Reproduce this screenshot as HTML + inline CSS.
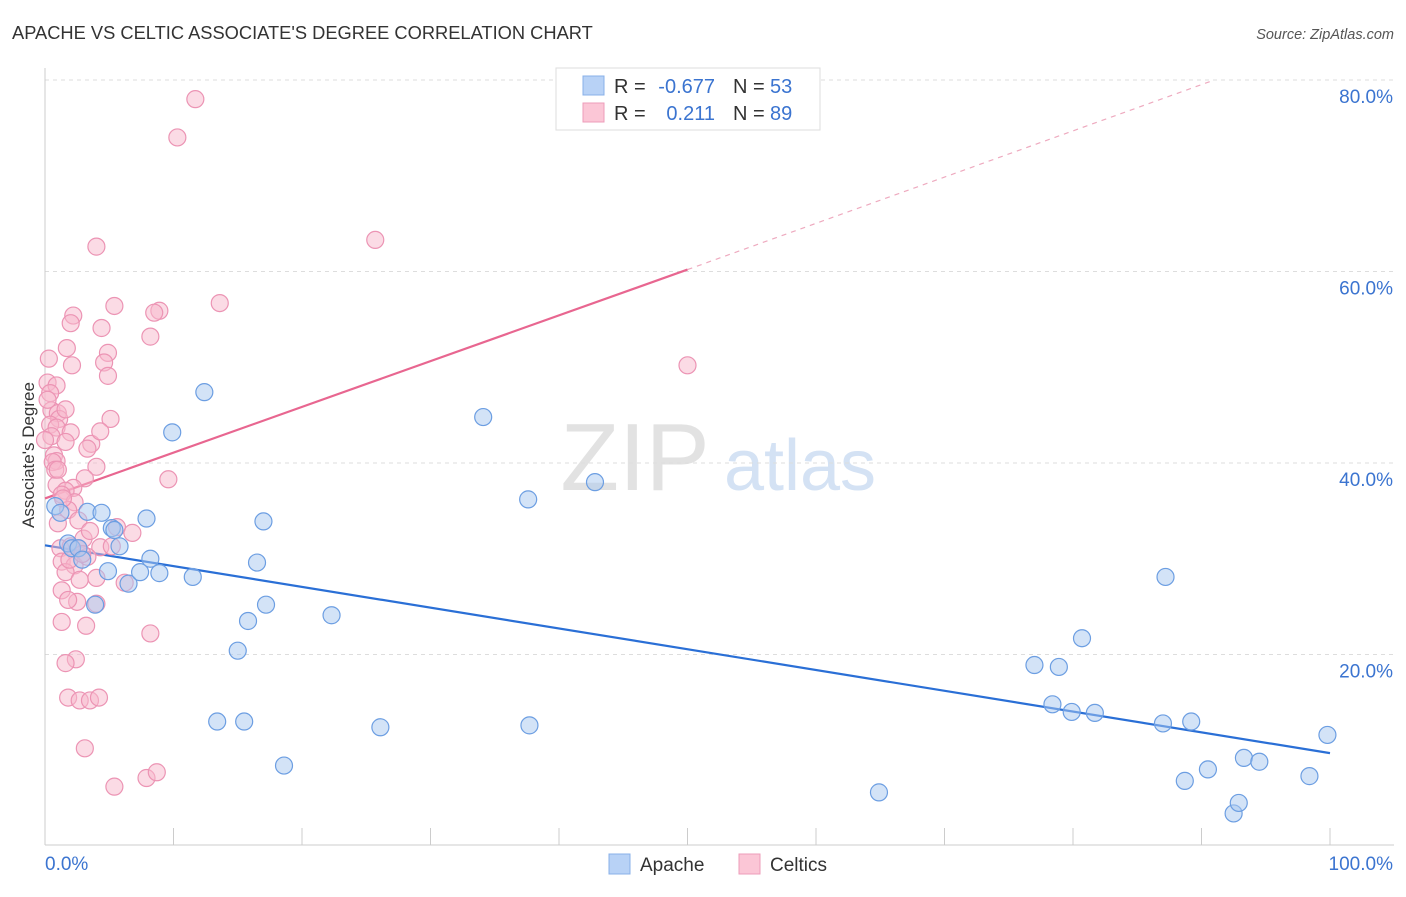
<!DOCTYPE html>
<html><head><meta charset="utf-8"><style>
body{margin:0;background:#fff;font-family:"Liberation Sans",sans-serif;}
svg text{font-family:"Liberation Sans",sans-serif;}
</style></head><body>
<svg id="c" width="1406" height="892" xmlns="http://www.w3.org/2000/svg">
<text x="12" y="39" font-size="18.3" fill="#333">APACHE VS CELTIC ASSOCIATE'S DEGREE CORRELATION CHART</text>
<text x="1394" y="39" font-size="14.5" fill="#555" font-style="italic" text-anchor="end">Source: ZipAtlas.com</text>
<g>
<text x="635" y="490" font-size="96" fill="#e2e2e2" font-family="Liberation Serif" text-anchor="middle">ZIP</text>
<text x="800" y="490" font-size="72" fill="#d4e2f4" text-anchor="middle">atlas</text>
</g>
<g id="grid"></g><g id="axes"></g><g id="lines"></g><g id="pts"></g>
<text transform="translate(34,455) rotate(-90)" font-size="17" fill="#333" text-anchor="middle">Associate's Degree</text>
<g>
<rect x="556" y="68" width="264" height="62" fill="#fff" stroke="#ddd"/>
<rect x="583" y="76" width="21" height="19" fill="#b8d2f6" stroke="#88b0e8"/>
<rect x="583" y="103" width="21" height="19" fill="#fbc6d6" stroke="#ee9cba"/>
<text x="614" y="93" font-size="20" fill="#333">R =</text><text x="715" y="93" font-size="20" fill="#3b74d0" text-anchor="end">-0.677</text>
<text x="733" y="93" font-size="20" fill="#333">N =</text><text x="770" y="93" font-size="20" fill="#3b74d0">53</text>
<text x="614" y="120" font-size="20" fill="#333">R =</text><text x="715" y="120" font-size="20" fill="#3b74d0" text-anchor="end">0.211</text>
<text x="733" y="120" font-size="20" fill="#333">N =</text><text x="770" y="120" font-size="20" fill="#3b74d0">89</text>
</g>
<g>
<rect x="609" y="854" width="21" height="20" fill="#b8d2f6" stroke="#88b0e8"/>
<text x="640" y="871" font-size="19" fill="#333">Apache</text>
<rect x="739" y="854" width="21" height="20" fill="#fbc6d6" stroke="#ee9cba"/>
<text x="770" y="871" font-size="19" fill="#333">Celtics</text>
</g>
</svg>
<script>
const yTicks=[20,40,60,80];
const yTickLabels=["20.0%","40.0%","60.0%","80.0%"];
const xTickLabels=["0.0%","100.0%"];
const apacheX=[0.8,1.2,1.8,2.1,2.6,2.9,3.3,4.4,3.9,4.9,5.2,5.4,5.8,6.5,7.4,7.9,8.2,8.9,9.9,11.5,12.4,13.4,15.0,15.5,15.8,16.5,17.0,17.2,18.6,22.3,26.1,34.1,37.6,37.7,42.8,64.9,77.0,78.4,78.9,79.9,80.7,81.7,87.2,87.0,88.7,89.2,90.5,92.5,92.9,93.3,94.5,98.4,99.8];
const apacheY=[35.5,34.8,31.6,31.1,31.1,29.9,34.9,34.8,25.2,28.7,33.2,33.0,31.3,27.4,28.6,34.2,30.0,28.5,43.2,28.1,47.4,13.0,20.4,13.0,23.5,29.6,33.9,25.2,8.4,24.1,12.4,44.8,36.2,12.6,38.0,5.6,18.9,14.8,18.7,14.0,21.7,13.9,28.1,12.8,6.8,13.0,8.0,3.4,4.5,9.2,8.8,7.3,11.6];
const celticsX=[11.7,10.3,4.0,25.7,13.6,5.4,8.9,8.5,2.2,2.0,4.4,8.2,1.7,4.9,0.3,2.1,4.6,4.9,50.0,0.2,0.9,0.4,0.5,1.0,1.1,5.1,0.4,0.9,0.5,2.0,3.6,1.6,3.3,0.7,0.9,4.0,0.6,9.6,3.1,0.9,2.2,1.6,1.3,2.3,1.8,1.0,5.6,6.8,3.0,1.2,2.0,2.6,4.3,5.2,1.3,2.3,3.3,1.6,2.7,4.0,6.2,1.3,2.5,4.0,1.3,3.2,8.2,2.4,1.6,1.8,2.7,3.5,4.2,3.1,5.4,7.9,8.7,1.9,2.9,0.2,0.8,1.4,2.6,0.0,3.5,1.8,1.0,1.6,4.3];
const celticsY=[78.0,74.0,62.6,63.3,56.7,56.4,55.9,55.7,55.4,54.6,54.1,53.2,52.0,51.5,50.9,50.2,50.5,49.1,50.2,48.4,48.1,47.3,45.5,45.2,44.6,44.6,44.0,43.7,42.8,43.2,42.0,42.2,41.5,40.8,40.2,39.6,40.1,38.3,38.4,37.7,37.4,37.1,36.7,35.9,35.1,33.7,33.3,32.7,32.1,31.1,31.3,31.1,31.2,31.3,29.7,29.3,30.2,28.6,27.8,28.0,27.5,26.7,25.5,25.3,23.4,23.0,22.2,19.5,19.1,15.5,15.2,15.2,15.5,10.2,6.2,7.1,7.7,29.9,30.5,46.6,39.3,36.3,34.0,42.4,32.9,25.7,39.3,45.6,43.3];
const apacheTrend=[[0,31.4],[100,9.7]];
const celticsTrend=[[0,36.3],[50,60.2]];
const celticsDash=[[50,60.2],[91,80]];
const NS="http://www.w3.org/2000/svg";
const X=v=>45+v*12.85, Y=v=>846-v*9.575;
function mk(p,t,a){const e=document.createElementNS(NS,t);for(const k in a)e.setAttribute(k,a[k]);p.appendChild(e);return e;}
const grid=document.getElementById('grid'),axes=document.getElementById('axes'),lines=document.getElementById('lines'),pts=document.getElementById('pts');
yTicks.forEach((t,i)=>{
 const g=mk(grid,'line',{x1:45,x2:1394,y1:Y(t),y2:Y(t),stroke:'#ddd','stroke-dasharray':'4,4'});
 
 
 const l=mk(axes,'text',{x:1393,y:Y(t)+23,'font-size':19,fill:'#3b74d0','text-anchor':'end'});
 l.textContent=yTickLabels[i];
 
 
});
const xa=mk(axes,'line',{x1:45,x2:1394,y1:845,y2:845,stroke:'#ccc'});


const ya=mk(axes,'line',{x1:45,x2:45,y1:68,y2:845,stroke:'#ccc'});


for(let i=0;i<=10;i++){const t=mk(axes,'line',{x1:X(i*10),x2:X(i*10),y1:828,y2:845,stroke:'#ccc'});
 
 }
[[0,'start',45],[100,'end',1393]].forEach((d,i)=>{const t=mk(axes,'text',{x:d[2],y:870,'font-size':19,fill:'#3b74d0','text-anchor':d[1]});t.textContent=xTickLabels[i];
 
 });
function seg(d,c,w,dash,name){const a={x1:X(d[0][0]),y1:Y(d[0][1]),x2:X(d[1][0]),y2:Y(d[1][1]),stroke:c,'stroke-width':w};if(dash)a['stroke-dasharray']=dash;const l=mk(lines,'line',a);
 
 }
function dots(xs,ys,f,s,name){xs.forEach((x,i)=>{const c=mk(pts,'circle',{cx:X(x),cy:Y(ys[i]),r:8.5,fill:f,'fill-opacity':0.5,stroke:s,'stroke-width':1.2});
 
 });}
dots(celticsX,celticsY,'#f8b8cc','#ec94b4','celtics-point');
dots(apacheX,apacheY,'#a8c8f0','#6c9ee2','apache-point');
seg(apacheTrend,'#2a6fd6',2.2,null,'apache-trend-line');
seg(celticsTrend,'#e86690',2.2,null,'celtics-trend-line');
seg(celticsDash,'#eeaabf',1.2,'5,5','celtics-trend-extension');
</script>
</body></html>
